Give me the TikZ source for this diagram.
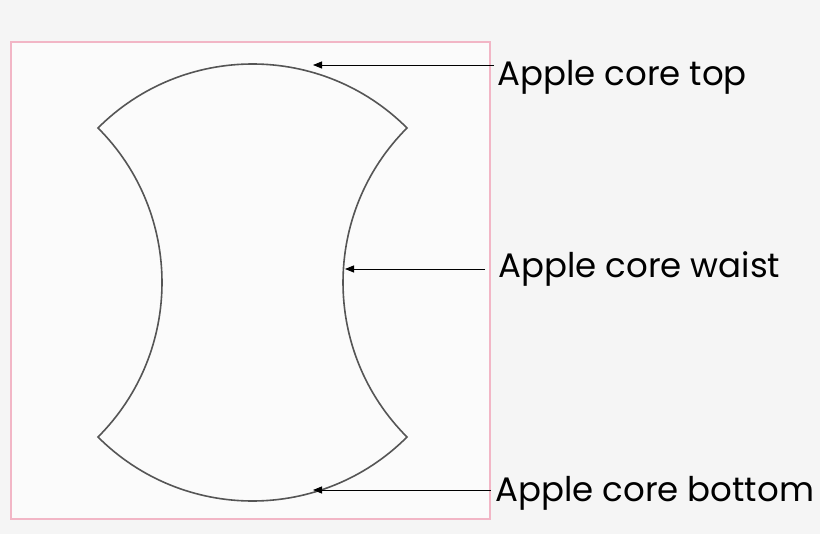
\documentclass[tikz,border=0pt]{standalone}
\usepackage{fontspec}
\setmainfont{Poppins}
\usetikzlibrary{arrows.meta}
\definecolor{pagegray}{HTML}{F5F5F5}
\definecolor{framepink}{HTML}{F2B6C6}
\definecolor{coreline}{HTML}{555555}
\tikzset{
  coreframe/.style={draw=framepink,line width=2.2pt,fill=white!60!pagegray},
  coreedge/.style={draw=coreline,line width=1.6pt,line join=miter},
  corelabel/.style={anchor=base west,inner sep=0pt,font=\fontsize{34}{40}\selectfont},
  pointer/.style={draw=black,line width=0.8pt,-{Triangle[length=9pt,width=7pt]}}
}
\begin{document}
\begin{tikzpicture}[x=1pt,y=1pt]
            \fill[pagegray] (0,0) rectangle (820,-534);
            \path[coreframe] (11,-42) rectangle (490,-519);
            \draw[coreedge] (98,-128) arc[start angle=135,end angle=45,radius=218.5]
                arc[start angle=135,end angle=225,radius=218.5]
                arc[start angle=-45,end angle=-135,radius=218.5]
                arc[start angle=-45,end angle=45,radius=218.5] -- cycle;
            \coordinate (tiptop) at (313,-65);
            \coordinate (tipwaist) at (345,-269);
            \coordinate (tipbottom) at (313,-490);
            \node[corelabel] (top) at (497,-86) {Apple core top};
            \node[corelabel] (waist) at (498,-278) {Apple core waist};
            \node[corelabel] (bottom) at (495,-502) {Apple core bottom};
            \draw[pointer] (top.west |- tiptop) ++(-3,0) -- (tiptop);
            \draw[pointer] (waist.west |- tipwaist) ++(-13,0) -- (tipwaist);
            \draw[pointer] (bottom.west |- tipbottom) ++(-4,0) -- (tipbottom);
        \end{tikzpicture}
\end{document}
